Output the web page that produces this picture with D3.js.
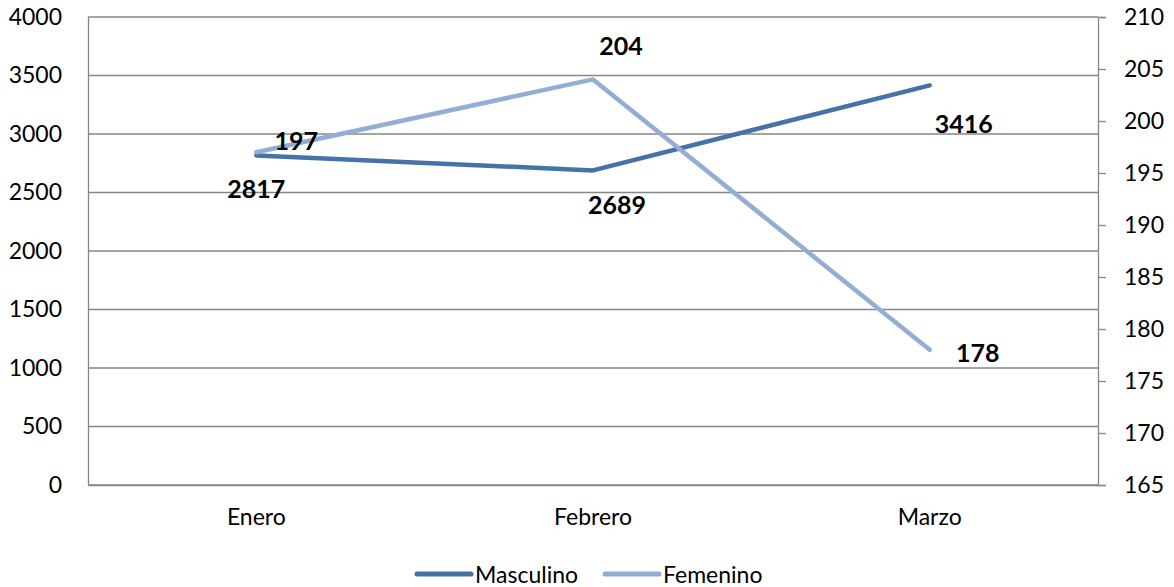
<!DOCTYPE html>
<html><head><meta charset="utf-8">
<script src="https://cdn.jsdelivr.net/npm/d3@7"></script>
<style>body{margin:0;background:#fff;} text{font-family:Lato, "Open Sans", sans-serif;}</style>
</head><body>
<svg id="c" width="1174" height="587"></svg>
<script>
const categories = ["Enero", "Febrero", "Marzo"];
const masculino = [2817, 2689, 3416];
const femenino = [197, 204, 178];
const leftTicks = [0, 500, 1000, 1500, 2000, 2500, 3000, 3500, 4000];
const rightTicks = [165, 170, 175, 180, 185, 190, 195, 200, 205, 210];
const seriesNames = ["Masculino", "Femenino"];
// label offsets (dx, dy) from the point
const mascLabelOff = [[0, 33], [24, 34], [34, 38]];
const femLabelOff = [[40, -12], [28, -34], [48, 2]];

const svg = d3.select("#c");
const L = 88, R = 1098, T = 17, B = 485;
const fs = 23;
const x = d3.scaleBand().domain(categories).range([L, R]);
const yL = d3.scaleLinear().domain([0, 4000]).range([B, T]);
const yR = d3.scaleLinear().domain([165, 210]).range([B, T]);
const cx = d => x(d) + x.bandwidth() / 2;
const grid = "#868686";

// gridlines
svg.append("g").selectAll("line").data(leftTicks).join("line")
  .attr("x1", L).attr("x2", R).attr("y1", d => yL(d)).attr("y2", d => yL(d))
  .attr("stroke", grid).attr("stroke-width", 1.3);

// left axis
const gl = svg.append("g").attr("transform", `translate(${L},0)`)
  .call(d3.axisLeft(yL).tickValues(leftTicks).tickFormat(d3.format("d")).tickSize(0).tickPadding(26));
gl.select(".domain").attr("stroke", grid).attr("stroke-width", 1.3);
gl.selectAll("text").attr("font-size", fs).attr("fill", "#000").attr("font-family", "Lato");

// right axis
const gr = svg.append("g").attr("transform", `translate(${R},0)`)
  .call(d3.axisRight(yR).tickValues(rightTicks).tickFormat(d3.format("d")).tickSize(8).tickPadding(18));
gr.select(".domain").attr("stroke", grid).attr("stroke-width", 1.3);
gr.selectAll(".tick line").attr("stroke", grid).attr("stroke-width", 1.3);
gr.selectAll("text").attr("font-size", fs).attr("fill", "#000").attr("font-family", "Lato");

// bottom axis
const gb = svg.append("g").attr("transform", `translate(0,${B})`)
  .call(d3.axisBottom(x).tickSize(0).tickPadding(24));
gb.select(".domain").attr("stroke", grid).attr("stroke-width", 1.3);
gb.selectAll("text").attr("font-size", fs).attr("fill", "#000").attr("font-family", "Lato");

const cM = "#4572A7", cF = "#93AED5";
const lineL = d3.line().x((d, i) => cx(categories[i])).y(d => yL(d));
const lineR = d3.line().x((d, i) => cx(categories[i])).y(d => yR(d));
svg.append("path").attr("d", lineL(masculino)).attr("fill", "none").attr("stroke", cM)
  .attr("stroke-width", 4.5).attr("stroke-linecap", "round").attr("stroke-linejoin", "round");
svg.append("path").attr("d", lineR(femenino)).attr("fill", "none").attr("stroke", cF)
  .attr("stroke-width", 4.5).attr("stroke-linecap", "round").attr("stroke-linejoin", "round");

// data labels
svg.append("g").selectAll("text").data(masculino).join("text")
  .attr("x", (d, i) => cx(categories[i]) + mascLabelOff[i][0])
  .attr("y", (d, i) => yL(d) + mascLabelOff[i][1])
  .attr("text-anchor", "middle").attr("dominant-baseline", "central")
  .attr("font-size", 25).attr("font-weight", "bold").text(d => d);
svg.append("g").selectAll("text").data(femenino).join("text")
  .attr("x", (d, i) => cx(categories[i]) + femLabelOff[i][0])
  .attr("y", (d, i) => yR(d) + femLabelOff[i][1])
  .attr("text-anchor", "middle").attr("dominant-baseline", "central")
  .attr("font-size", 25).attr("font-weight", "bold").text(d => d);

// legend
const legX = [417, 605], legY = 574;
const lg = svg.append("g").selectAll("g").data(seriesNames).join("g")
  .attr("transform", (d, i) => `translate(${legX[i]},${legY})`);
lg.append("line").attr("x1", 0).attr("x2", 54).attr("y1", 0).attr("y2", 0)
  .attr("stroke", (d, i) => i === 0 ? cM : cF).attr("stroke-width", 5).attr("stroke-linecap", "round");
lg.append("text").attr("x", 58).attr("y", 0).attr("dominant-baseline", "central")
  .attr("font-size", fs).text(d => d);
</script>
</body></html>
